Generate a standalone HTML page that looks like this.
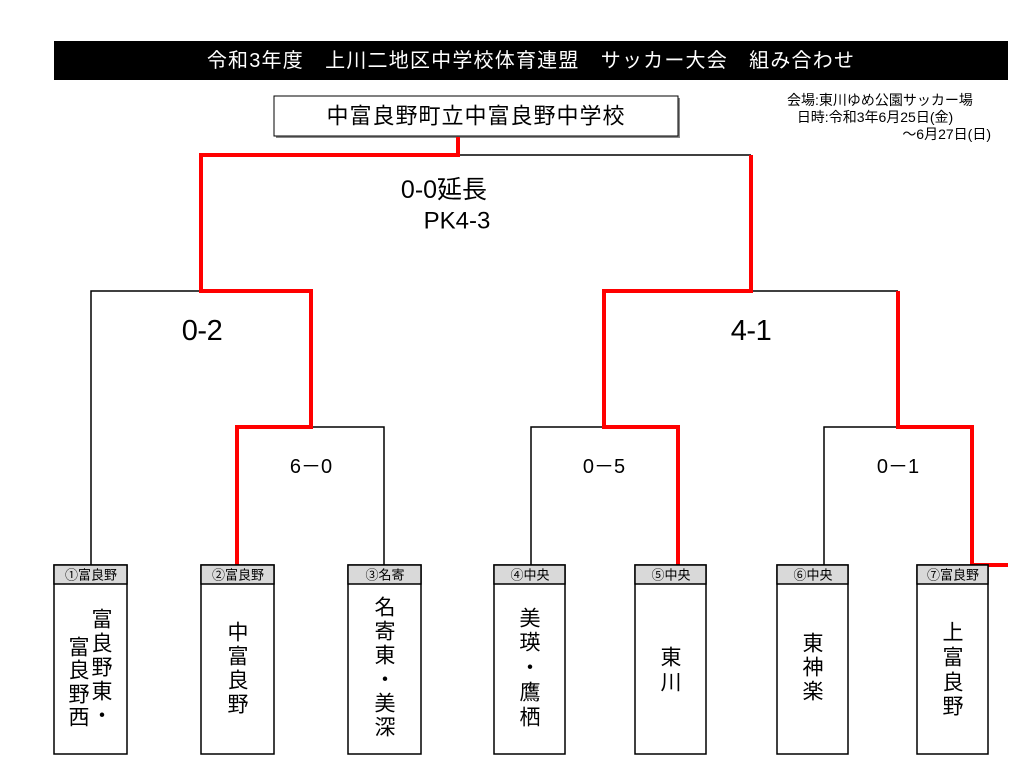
<!DOCTYPE html>
<html><head><meta charset="utf-8">
<style>
html,body{margin:0;padding:0;background:#fff;}
svg{display:block;}
text{font-family:"Liberation Sans","Noto Sans CJK JP",sans-serif;}
</style></head>
<body>
<svg width="1024" height="768" viewBox="0 0 1024 768" xmlns="http://www.w3.org/2000/svg">
<rect x="0" y="0" width="1024" height="768" fill="#fff"/>
<!-- header -->
<rect x="54" y="41" width="954" height="39" fill="#000"/>
<text x="531" y="61" fill="#fff" font-size="20" letter-spacing="1.2" text-anchor="middle" dominant-baseline="central">令和3年度　上川二地区中学校体育連盟　サッカー大会　組み合わせ</text>
<!-- champion box -->
<rect x="276" y="98" width="404" height="40" fill="#888"/>
<rect x="274" y="96" width="404" height="40" fill="#fff" stroke="#000" stroke-width="1"/>
<text x="476" y="116" font-size="22" letter-spacing="1" text-anchor="middle" dominant-baseline="central">中富良野町立中富良野中学校</text>
<!-- venue -->
<text x="880" y="100" font-size="14" text-anchor="middle" dominant-baseline="central">会場:東川ゆめ公園サッカー場</text>
<text x="875" y="117" font-size="14" text-anchor="middle" dominant-baseline="central">日時:令和3年6月25日(金)</text>
<text x="991" y="134" font-size="14" text-anchor="end" dominant-baseline="central">～6月27日(日)</text>

<!-- black lines -->
<g stroke="#000" stroke-width="1.5" fill="none">
<polyline points="458,155 751,155"/>
<polyline points="91,565 91,291 201,291"/>
<polyline points="311,427 384,427 384,565"/>
<polyline points="751,291 898,291"/>
<polyline points="531,565 531,427 604,427"/>
<polyline points="824,565 824,427 898,427"/>
</g>
<!-- red lines -->
<g stroke="#f00" stroke-width="4" fill="none" stroke-linejoin="miter">
<polyline points="458,137 458,155 201,155 201,291 311,291 311,427 237,427 237,565"/>
<polyline points="751,155 751,291 604,291 604,427 678,427 678,565"/>
<polyline points="898,291 898,427 972,427 972,565 1008,565"/>
</g>

<!-- scores -->
<text x="444" y="190" font-size="25" text-anchor="middle" dominant-baseline="central">0-0延長</text>
<text x="457" y="221" font-size="24" text-anchor="middle" dominant-baseline="central">PK4-3</text>
<text x="202" y="331" font-size="29" letter-spacing="-0.5" text-anchor="middle" dominant-baseline="central">0-2</text>
<text x="751" y="331" font-size="29" letter-spacing="-0.5" text-anchor="middle" dominant-baseline="central">4-1</text>
<text x="311" y="467" font-size="20" text-anchor="middle" dominant-baseline="central">6－0</text>
<text x="604" y="467" font-size="20" text-anchor="middle" dominant-baseline="central">0－5</text>
<text x="898" y="467" font-size="20" text-anchor="middle" dominant-baseline="central">0－1</text>

<!-- team boxes -->
<g stroke="#000" stroke-width="1.5">
<rect x="54" y="565" width="73" height="189" fill="#fff"/>
<rect x="54" y="565" width="73" height="19" fill="#d9d9d9"/>
<rect x="201" y="565" width="73" height="189" fill="#fff"/>
<rect x="201" y="565" width="73" height="19" fill="#d9d9d9"/>
<rect x="348" y="565" width="73" height="189" fill="#fff"/>
<rect x="348" y="565" width="73" height="19" fill="#d9d9d9"/>
<rect x="494" y="565" width="71" height="189" fill="#fff"/>
<rect x="494" y="565" width="71" height="19" fill="#d9d9d9"/>
<rect x="635" y="565" width="71" height="189" fill="#fff"/>
<rect x="635" y="565" width="71" height="19" fill="#d9d9d9"/>
<rect x="777" y="565" width="71" height="189" fill="#fff"/>
<rect x="777" y="565" width="71" height="19" fill="#d9d9d9"/>
<rect x="917" y="565" width="71" height="189" fill="#fff"/>
<rect x="917" y="565" width="71" height="19" fill="#d9d9d9"/>
</g>
<g font-size="13" text-anchor="middle" dominant-baseline="central">
<text x="91" y="575">①富良野</text>
<text x="238" y="575">②富良野</text>
<text x="385" y="575">③名寄</text>
<text x="530" y="575">④中央</text>
<text x="671" y="575">⑤中央</text>
<text x="813" y="575">⑥中央</text>
<text x="953" y="575">⑦富良野</text>
</g>
<g font-size="21" text-anchor="middle" dominant-baseline="central">
<text x="102" y="620">富</text><text x="102" y="644">良</text><text x="102" y="668">野</text><text x="102" y="692">東</text><text x="102" y="716">・</text>
<text x="79" y="648">富</text><text x="79" y="671">良</text><text x="79" y="695">野</text><text x="79" y="718">西</text>
<text x="238" y="633">中</text><text x="238" y="657">富</text><text x="238" y="681">良</text><text x="238" y="705">野</text>
<text x="385" y="608">名</text><text x="385" y="632">寄</text><text x="385" y="656">東</text><text x="385" y="680">・</text><text x="385" y="704">美</text><text x="385" y="728">深</text>
<text x="530" y="619">美</text><text x="530" y="643">瑛</text><text x="530" y="668">・</text><text x="530" y="693">鷹</text><text x="530" y="718">栖</text>
<text x="671" y="658">東</text><text x="671" y="683">川</text>
<text x="813" y="644">東</text><text x="813" y="668">神</text><text x="813" y="692">楽</text>
<text x="953" y="633">上</text><text x="953" y="658">富</text><text x="953" y="683">良</text><text x="953" y="707">野</text>
</g>
</svg>
</body></html>
